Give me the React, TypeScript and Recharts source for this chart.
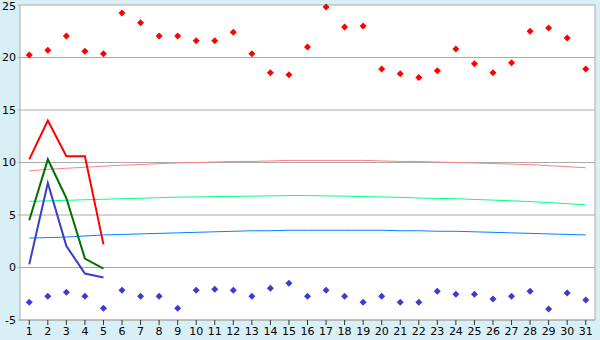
import React from "react";
import {
  ComposedChart,
  Line,
  XAxis,
  YAxis,
  CartesianGrid,
  ReferenceLine,
} from "recharts";

const days = Array.from({ length: 31 }, (_, i) => i + 1);

// record highs / lows (diamonds)
const recordHigh = [
  20.25, 20.7, 22.05, 20.6, 20.35, 24.25, 23.3, 22.05, 22.05, 21.6, 21.6, 22.4,
  20.35, 18.55, 18.35, 21.0, 24.8, 22.9, 23.0, 18.9, 18.45, 18.1, 18.75, 20.8,
  19.4, 18.55, 19.5, 22.5, 22.8, 21.85, 18.9,
];
const recordLow = [
  -3.3, -2.73, -2.35, -2.73, -3.87, -2.16, -2.73, -2.73, -3.87, -2.16, -2.06,
  -2.16, -2.73, -1.97, -1.5, -2.73, -2.16, -2.73, -3.3, -2.73, -3.3, -3.3,
  -2.25, -2.54, -2.54, -3.0, -2.73, -2.25, -3.96, -2.44, -3.1,
];

// normals (thin lines)
const normalHigh = [
  9.2, 9.35, 9.45, 9.55, 9.65, 9.75, 9.8, 9.9, 9.95, 10.0, 10.05, 10.1, 10.1,
  10.15, 10.2, 10.2, 10.2, 10.2, 10.2, 10.15, 10.1, 10.1, 10.05, 10.0, 9.95,
  9.9, 9.85, 9.8, 9.7, 9.6, 9.5,
];
const normalMean = [
  6.3, 6.35, 6.4, 6.45, 6.5, 6.55, 6.6, 6.65, 6.7, 6.72, 6.75, 6.78, 6.8, 6.82,
  6.85, 6.85, 6.82, 6.8, 6.75, 6.72, 6.68, 6.62, 6.58, 6.55, 6.48, 6.42, 6.35,
  6.28, 6.18, 6.08, 5.98,
];
const normalLow = [
  2.8, 2.85, 2.9, 3.0, 3.1, 3.15, 3.2, 3.25, 3.3, 3.35, 3.4, 3.45, 3.5, 3.5,
  3.55, 3.55, 3.55, 3.55, 3.55, 3.55, 3.5, 3.5, 3.45, 3.45, 3.4, 3.35, 3.3,
  3.25, 3.2, 3.15, 3.1,
];

// this month so far (thick lines)
const actualHigh = [10.3, 14.0, 10.6, 10.6, 2.2];
const actualMean = [4.5, 10.3, 6.6, 0.85, -0.1];
const actualLow = [0.3, 8.05, 2.05, -0.57, -0.95];

const yTicks = [-5, 0, 5, 10, 15, 20, 25];

const data = days.map((d, i) => ({
  day: d,
  recordHigh: recordHigh[i],
  recordLow: recordLow[i],
  normalHigh: normalHigh[i],
  normalMean: normalMean[i],
  normalLow: normalLow[i],
  actualHigh: actualHigh[i],
  actualMean: actualMean[i],
  actualLow: actualLow[i],
}));

const diamond = (color: string) => (props: any) => {
  const { cx, cy, index } = props;
  if (cx == null || cy == null) return <g key={index} />;
  const r = 3.5;
  return (
    <polygon
      key={index}
      points={`${cx},${cy - r} ${cx + r},${cy} ${cx},${cy + r} ${cx - r},${cy}`}
      fill={color}
      stroke="none"
    />
  );
};

const tickStyle = { fontFamily: "DejaVu Sans", fontSize: 11, fill: "#000" };

export default function App() {
  return (
    <div style={{ width: 600, height: 340, background: "#d9eff6" }}>
      <style>{"body{margin:0}"}</style>
      <ComposedChart
        width={600}
        height={340}
        data={data}
        margin={{ top: 5, right: 5, bottom: 0, left: 0 }}
      >
        <CartesianGrid
          vertical={false}
          stroke="#aaaaaa"
          fill="#ffffff"
          fillOpacity={1}
        />
        <XAxis
          dataKey="day"
          type="number"
          domain={[0.5, 31.5]}
          ticks={days}
          interval={0}
          height={20}
          axisLine={{ stroke: "#aaaaaa" }}
          tickLine={{ stroke: "#333333" }}
          tickSize={5}
          tick={tickStyle}
        />
        <YAxis
          domain={[-5, 25]}
          ticks={yTicks}
          width={20}
          axisLine={{ stroke: "#aaaaaa" }}
          tickLine={{ stroke: "#aaaaaa" }}
          tickSize={2}
          tick={tickStyle}
        />
        <ReferenceLine x={31.5} stroke="#aaaaaa" />
        <Line
          dataKey="normalHigh"
          stroke="#ff8080"
          strokeWidth={1}
          dot={false}
          isAnimationActive={false}
        />
        <Line
          dataKey="normalMean"
          stroke="#00ff80"
          strokeWidth={1}
          dot={false}
          isAnimationActive={false}
        />
        <Line
          dataKey="normalLow"
          stroke="#0080ff"
          strokeWidth={1}
          dot={false}
          isAnimationActive={false}
        />
        <Line
          dataKey="actualHigh"
          stroke="#ff0000"
          strokeWidth={2}
          dot={false}
          isAnimationActive={false}
        />
        <Line
          dataKey="actualMean"
          stroke="#007000"
          strokeWidth={2}
          dot={false}
          isAnimationActive={false}
        />
        <Line
          dataKey="actualLow"
          stroke="#3b3bd0"
          strokeWidth={2}
          dot={false}
          isAnimationActive={false}
        />
        <Line
          dataKey="recordHigh"
          stroke="none"
          dot={diamond("#ff0000")}
          activeDot={false}
          isAnimationActive={false}
        />
        <Line
          dataKey="recordLow"
          stroke="none"
          dot={diamond("#3b3bd0")}
          activeDot={false}
          isAnimationActive={false}
        />
      </ComposedChart>
    </div>
  );
}
